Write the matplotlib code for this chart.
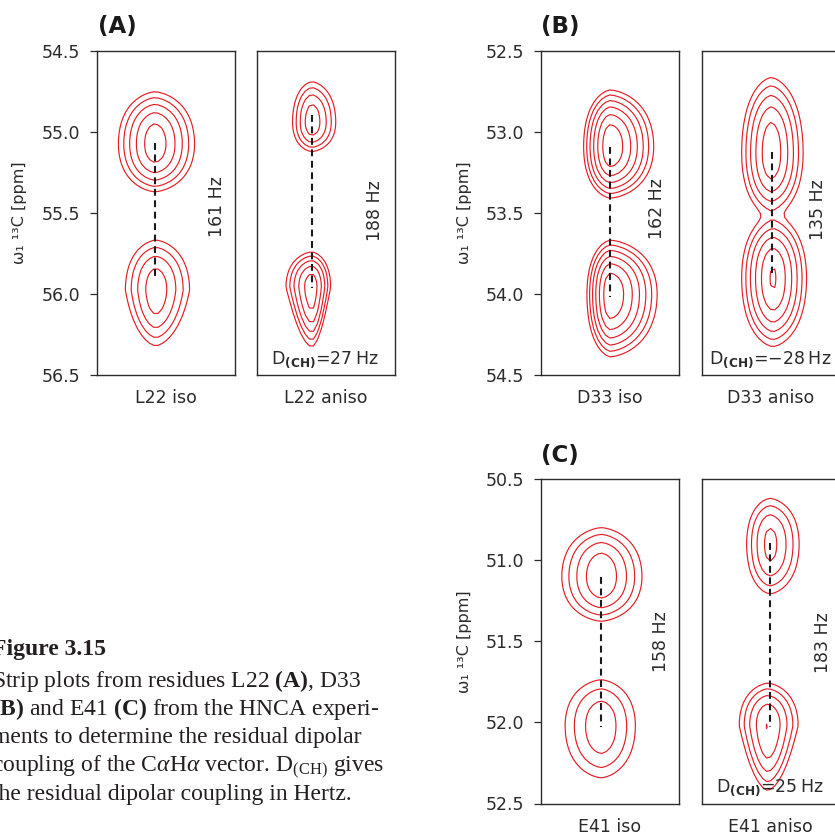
import numpy as np
import matplotlib
matplotlib.use("Agg")
import matplotlib.pyplot as plt

plt.rcParams["font.family"] = ["DejaVu Sans"]
plt.rcParams["mathtext.fontset"] = "custom"
plt.rcParams["mathtext.rm"] = "Liberation Serif"
plt.rcParams["mathtext.it"] = "Liberation Serif:italic"
plt.rcParams["mathtext.bf"] = "Liberation Serif:bold"

# ---- data -------------------------------------------------------------
residues = ["L22", "D33", "E41"]
panel_tags = ["(A)", "(B)", "(C)"]
strip_names = ["iso", "aniso"]
ppm_top = [54.5, 52.5, 50.5]
ppm_span = 2.0
splitting_hz = [[161, 188], [162, 135], [158, 183]]   # [residue][iso, aniso]
rdc_hz = [27, -28, 25]

# peak parameters: [residue][strip][upper, lower]
peak_x = [[[0.420, 0.426], [0.400, 0.400]],
          [[0.503, 0.503], [0.504, 0.517]],
          [[0.437, 0.437], [0.495, 0.480]]]
peak_ppm = [[[55.073, 55.975], [54.941, 55.957]],
            [[53.090, 54.000], [53.130, 53.900]],
            [[51.100, 52.020], [50.899, 52.020]]]
peak_height = [[[4.70, 3.70], [3.75, 4.70]],
               [[5.90, 5.90], [4.80, 5.15]],
               [[3.90, 2.80], [3.40, 4.05]]]
reach_left = [[[0.265, 0.220], [0.140, 0.188]],
              [[0.194, 0.170], [0.214, 0.227]],
              [[0.286, 0.262], [0.169, 0.208]]]
reach_right = [[[0.288, 0.246], [0.174, 0.137]],
               [[0.315, 0.340], [0.232, 0.244]],
               [[0.296, 0.248], [0.212, 0.220]]]
reach_up = [[[0.322, 0.309], [0.252, 0.218]],
            [[0.350, 0.333], [0.467, 0.389]],
            [[0.302, 0.284], [0.282, 0.263]]]
reach_down = [[[0.296, 0.344], [0.180, 0.369]],
              [[0.318, 0.387], [0.389, 0.424]],
              [[0.276, 0.322], [0.308, 0.400]]]
taper = [[[0.0, 0.3], [0.0, 0.6]],
         [[0.0, 0.0], [0.0, 0.0]],
         [[0.0, 0.0], [0.0, 0.5]]]

# dashed splitting markers: [residue][iso, aniso]
dash_x = [[0.419, 0.400], [0.503, 0.507], [0.437, 0.495]]
dash_from = [[55.070, 54.895], [53.090, 53.122], [51.100, 50.895]]
dash_to = [[55.914, 55.959], [54.017, 53.872], [52.025, 52.025]]

caption_lines = [
    r"Strip plots from residues L22 $\mathbf{(A)}$, D33",
    r"$\mathbf{(B)}$ and E41 $\mathbf{(C)}$ from the HNCA experi-",
    r"ments to determine the residual dipolar",
    r"coupling of the C$\alpha$H$\alpha$ vector. D$_{\mathrm{(CH)}}$ gives",
    r"the residual dipolar coupling in Hertz.",
]

# ---- layout (pixels) ----------------------------------------------------
W, H = 835, 834
fig = plt.figure(figsize=(W / 100, H / 100), dpi=100)
fig.patch.set_facecolor("white")

strip_left = [[97.0, 256.7], [541.0, 701.7], [541.0, 701.7]]
strip_top = [51.0, 51.0, 479.3]
strip_w, strip_h = 137.8, 324.2
ylabel_x = [20, 464, 464]
tag_pos = [(98, 27), (541, 27), (541, 455)]
hz_pos = [[(0.874, 0.519), (0.855, 0.509)],
          [(0.843, 0.514), (0.843, 0.512)],
          [(0.874, 0.499), (0.879, 0.495)]]

RED = "#e41e26"
INK = "#2b2b2b"
PX = 1.5       # lineshape exponent along the proton strip
SQUARE = 0.35  # cross term that squares off the outer contours a little


def log_peak(X, Y, x0, y0, h, eL, eR, eU, eD, tp):
    sx = np.where(X < x0, eL, eR) / h ** (1.0 / PX)
    sy = np.where(Y < y0, eU, eD) / np.sqrt(h)
    dyn = (Y - y0) / sy
    sx = sx / (1.0 + tp * np.clip(dyn, 0, None) / np.sqrt(h))
    tx = (np.abs(X - x0) / sx) ** PX
    ty = dyn ** 2
    return h - tx - ty + SQUARE * tx * ty / (tx + ty + 1e-9)


for r in range(3):
    for s in range(2):
        left = strip_left[r][s]
        top = strip_top[r]
        ax = fig.add_axes([left / W, 1 - (top + strip_h) / H, strip_w / W, strip_h / H])
        y_lo, y_hi = ppm_top[r], ppm_top[r] + ppm_span
        xs = np.linspace(0, 1, 35)
        ys = np.linspace(y_lo, y_hi, 81)
        X, Y = np.meshgrid(xs, ys)
        F = np.zeros_like(X)
        for p in range(2):
            F += np.exp(log_peak(X, Y, peak_x[r][s][p], peak_ppm[r][s][p],
                                 peak_height[r][s][p], reach_left[r][s][p],
                                 reach_right[r][s][p], reach_up[r][s][p],
                                 reach_down[r][s][p], taper[r][s][p]))
        levels = np.arange(0, 7)
        ax.contour(X, Y, np.log(F), levels=levels, colors=RED, linewidths=0.85)
        ax.plot([dash_x[r][s]] * 2, [dash_from[r][s], dash_to[r][s]],
                color="#1a1a1a", lw=1.5, dashes=(3.3, 2.2))
        ax.set_xlim(0, 1)
        ax.set_ylim(y_hi, y_lo)
        ax.set_xticks([])
        for sp in ax.spines.values():
            sp.set_color(INK)
            sp.set_linewidth(1.0)
        if s == 0:
            ticks = np.arange(y_lo, y_hi + 0.01, 0.5)
            ax.set_yticks(ticks)
            ax.set_yticklabels([f"{t:.1f}" for t in ticks])
            ax.tick_params(axis="y", direction="out", length=5, width=0.9,
                           color=INK, labelcolor=INK, labelsize=12.5, pad=7)
            ax.text((ylabel_x[r] - left) / strip_w, 0.5,
                    "ω\u2081 \u00b9\u00b3C [ppm]",
                    rotation=90, ha="center", va="center", fontsize=11.5,
                    color=INK, transform=ax.transAxes)
        else:
            ax.set_yticks([])
            val = rdc_hz[r]
            txt = ("\u2212" if val < 0 else "") + str(abs(val))
            ax.text(0.497, 0.048, r"D$_{\mathbf{(CH)}}$=" + txt + "\u2009Hz",
                    ha="center", va="center", fontsize=12.5, color=INK,
                    math_fontfamily="dejavusans", transform=ax.transAxes)
        hx, hy = hz_pos[r][s]
        ax.text(hx, hy, f"{splitting_hz[r][s]} Hz", rotation=90, ha="center",
                va="center", fontsize=12.5, color=INK, transform=ax.transAxes)
        ax.text(0.5, -0.071, f"{residues[r]} {strip_names[s]}", ha="center",
                va="center", fontsize=12.5, color=INK, transform=ax.transAxes)
    tx, ty = tag_pos[r]
    fig.text(tx / W, 1 - ty / H, panel_tags[r], ha="left", va="center",
             fontsize=16.5, fontweight="bold", color="#1a1a1a")

# caption block
cap_x = -8 / W
fig.text(cap_x, 1 - 655 / H, "Figure 3.15", family="Liberation Serif",
         fontsize=17, fontweight="bold", color="#231f20", va="baseline")
for i, line in enumerate(caption_lines):
    fig.text(cap_x, 1 - (686.5 + 28.4 * i) / H, line, family="Liberation Serif",
             fontsize=17, color="#231f20", va="baseline")

fig.savefig("out.png", dpi=100, facecolor="white")
